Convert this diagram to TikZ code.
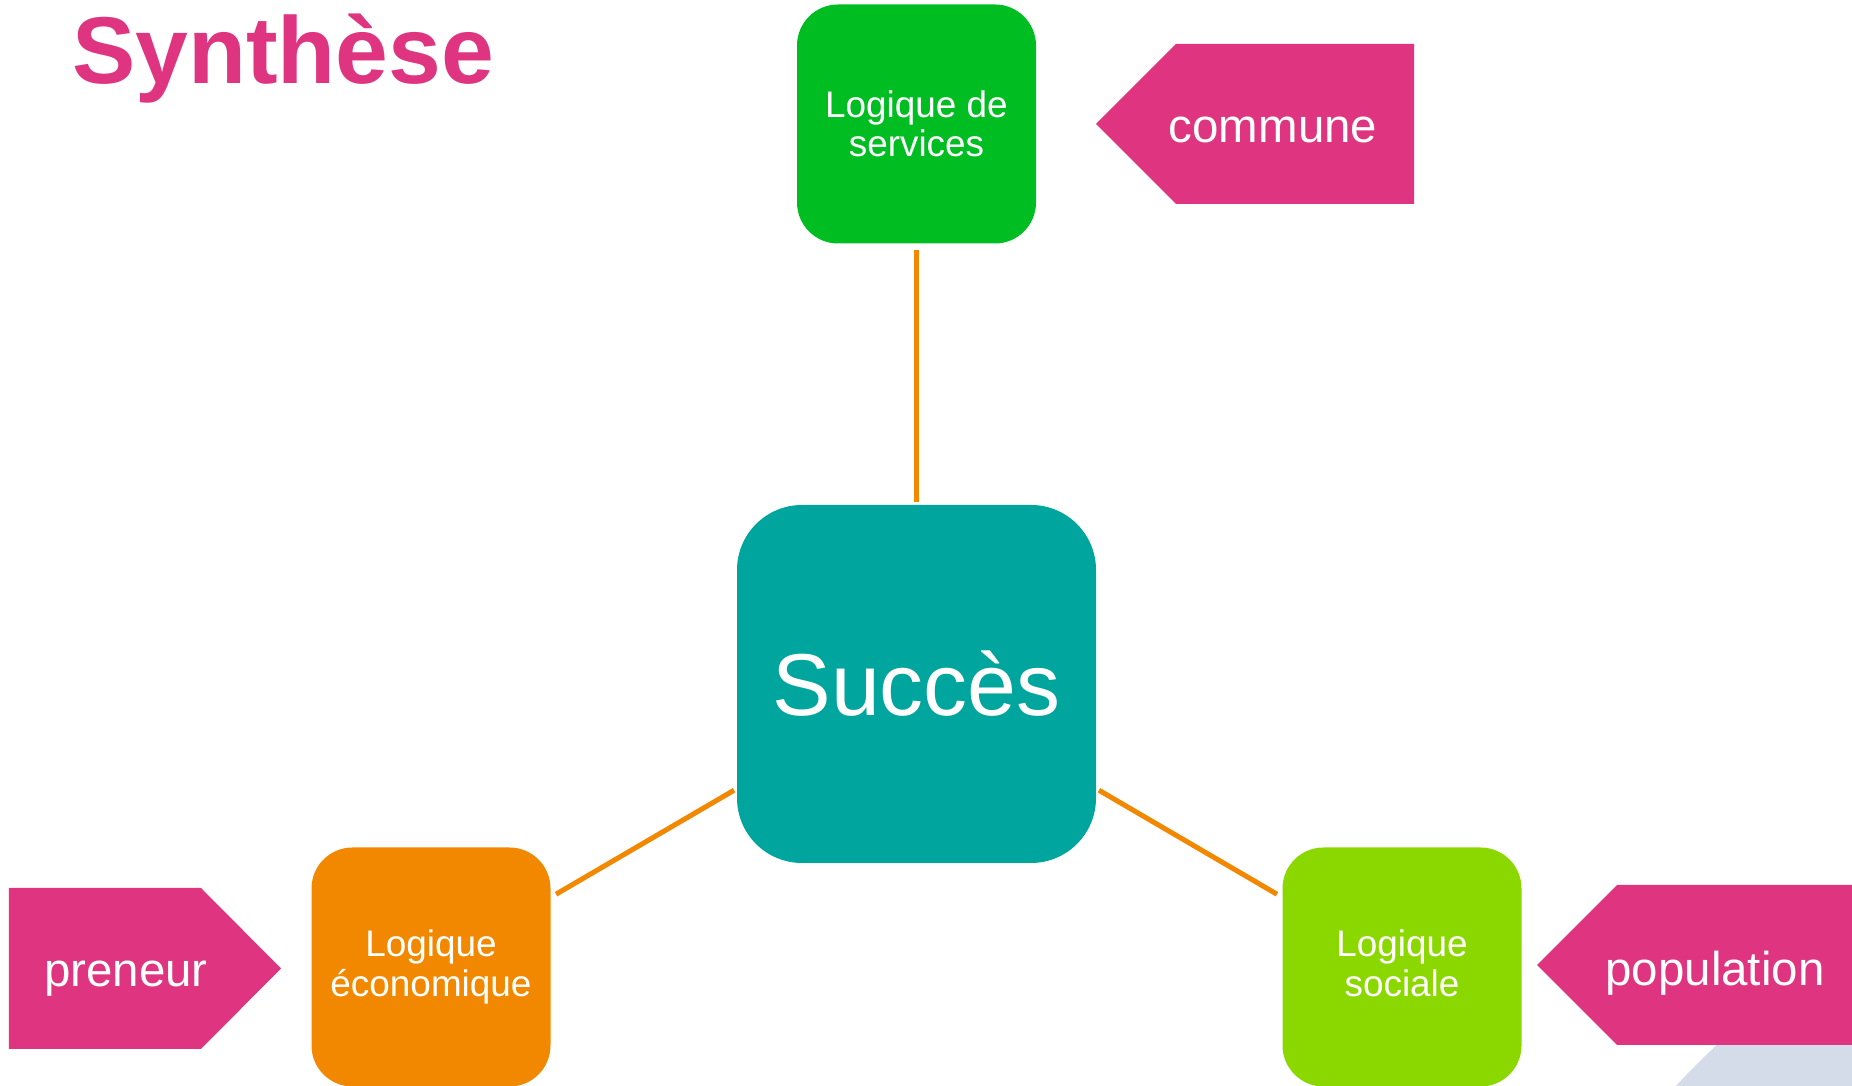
\documentclass[tikz,border=0pt]{standalone}
\usepackage{fontspec}
\setmainfont{Liberation Sans}
\usepackage{tikz}

\definecolor{rose}{HTML}{DF3580}
\definecolor{vertvif}{HTML}{00BE22}
\definecolor{sarcelle}{HTML}{00A59E}
\definecolor{orangevif}{HTML}{F18800}
\definecolor{vertlime}{HTML}{8AD800}
\definecolor{fondbleu}{HTML}{D5DCE9}

\begin{document}
\begin{tikzpicture}[
    boite/.style={rectangle,rounded corners=0.82cm,minimum width=4.78cm,
      minimum height=4.78cm,inner sep=0pt,text=white,align=center,
      font=\fontsize{21pt}{22.5pt}\selectfont},
    lien/.style={draw=orangevif,line width=0.1cm,
      shorten <=0.12cm,shorten >=0.06cm},
    etiq/.style={text=white,anchor=base,font=\fontsize{27pt}{30pt}\selectfont}]
  \useasboundingbox (0,0) rectangle (37.04,21.72);
  \clip (0,0) rectangle (37.04,21.72);

  % disque clair en bas a droite
  \fill[fondbleu] (43.82,-9.48) circle (14);

  \node[anchor=base west,text=rose,
    font=\fontsize{54pt}{60pt}\selectfont\bfseries] (titre) at (1.32,20.04) {Synthèse};

  \node[boite,fill=vertvif] (serv) at (18.33,19.24) {Logique de\\services};
  \node[boite,fill=sarcelle,minimum width=7.18cm,minimum height=7.16cm,
    rounded corners=1.3cm,font=\fontsize{50pt}{55pt}\selectfont] (succes) at (18.33,8.04) {Succès};
  \node[boite,fill=orangevif] (eco) at (8.62,2.38) {Logique\\économique};
  \node[boite,fill=vertlime] (soc) at (28.04,2.38) {Logique\\sociale\vphantom{q}};

  \draw[lien] (serv) -- (succes);
  \draw[lien] (eco) -- (succes);
  \draw[lien] (soc) -- (succes);

  % fleches roses
  \fill[rose] (21.92,19.24) -- (23.52,20.84) -- (28.28,20.84)
    -- (28.28,17.64) -- (23.52,17.64) -- cycle;
  \fill[rose] (0.18,3.96) -- (4.02,3.96) -- (5.62,2.35)
    -- (4.02,0.74) -- (0.18,0.74) -- cycle;
  \fill[rose] (30.74,2.42) -- (32.34,4.02) -- (37.5,4.02)
    -- (37.5,0.82) -- (32.34,0.82) -- cycle;

  \node[etiq] (commune) at (25.46,18.86) {commune};
  \node[etiq] (preneur) at (2.52,1.98) {preneur};
  \node[etiq] (population) at (34.3,2.0) {population};
\end{tikzpicture}
\end{document}
